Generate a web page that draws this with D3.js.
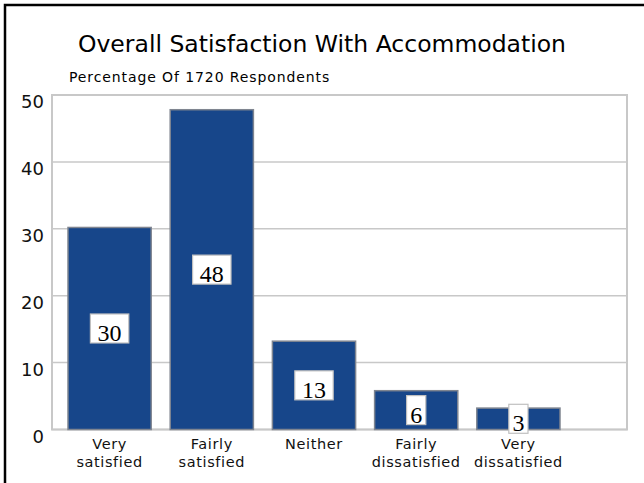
<!DOCTYPE html>
<html><head><meta charset="utf-8">
<script src="https://cdn.jsdelivr.net/npm/d3@7"></script>
<style>
html,body{margin:0;padding:0;background:#fff;}
svg{display:block;}
</style></head>
<body>
<svg id="chart" width="644" height="483"></svg>
<script>
const categories = [["Very","satisfied"],["Fairly","satisfied"],["Neither"],["Fairly","dissatisfied"],["Very","dissatisfied"]];
const values = [30.2, 47.8, 13.2, 5.8, 3.2];
const valueLabels = ["30","48","13","6","3"];
const yTicks = [0,10,20,30,40,50];
const title = "Overall Satisfaction With Accommodation";
const subtitle = "Percentage Of 1720 Respondents";

const svg = d3.select("#chart");
const W = 644, H = 483;
const plot = {left:52, right:627, top:95, bottom:429.5};

// frame
svg.append("path").attr("d", `M5,${H} L5,5 L${W},5`).attr("fill","none").attr("stroke","#000").attr("stroke-width",2.5);

const y = d3.scaleLinear().domain([0,50]).range([plot.bottom, plot.top]);
const x = d3.scaleBand().domain(d3.range(values.length)).range([68,560]).paddingInner(0.186).paddingOuter(0);

// gridlines
svg.append("g").selectAll("line").data(yTicks).join("line")
  .attr("x1",plot.left).attr("x2",plot.right)
  .attr("y1",d=>y(d)).attr("y2",d=>y(d))
  .attr("stroke","#c8c8c8").attr("stroke-width",1.5);
// plot border
svg.append("rect").attr("x",plot.left).attr("y",plot.top)
  .attr("width",plot.right-plot.left).attr("height",plot.bottom-plot.top)
  .attr("fill","none").attr("stroke","#c8c8c8").attr("stroke-width",2);

// y axis labels
const yAxis = d3.axisLeft(y).tickValues(yTicks).tickSize(0).tickPadding(0);
const gy = svg.append("g").attr("transform",`translate(44,0)`).call(yAxis);
gy.select(".domain").remove();
gy.selectAll("text").attr("font-family","DejaVu Sans").attr("font-size",18).attr("fill","#111")
  .attr("dy",null).attr("y",12.5);

// bars
svg.append("g").selectAll("rect").data(values).join("rect")
  .attr("x",(d,i)=>x(i)).attr("width",x.bandwidth())
  .attr("y",d=>y(d)).attr("height",d=>y(0)-y(d))
  .attr("fill","#17468a").attr("stroke","#7f8590").attr("stroke-width",1.5);

// value labels
const lg = svg.append("g");
values.forEach((v,i)=>{
  const cx = x(i)+x.bandwidth()/2;
  const cy = y(v/2);
  const g = lg.append("g");
  const r = g.append("rect");
  const t = g.append("text").text(valueLabels[i])
    .attr("font-family","Liberation Serif").attr("font-size",24)
    .attr("text-anchor","middle").attr("x",cx).attr("y",cy+12.5).attr("fill","#000");
  const bw = t.node().getBBox().width*1.6;
  r.attr("x",cx-bw/2).attr("y",cy-14.5).attr("width",bw).attr("height",29)
   .attr("fill","#fff").attr("stroke","#c0c0c0").attr("stroke-width",1.2);
});

// category labels
const cg = svg.append("g");
categories.forEach((lines,i)=>{
  const cx = x(i)+x.bandwidth()/2;
  const t = cg.append("text").attr("font-family","DejaVu Sans").attr("font-size",14.5)
    .attr("letter-spacing",0.6).attr("text-anchor","middle").attr("fill","#111");
  lines.forEach((s,j)=>{
    t.append("tspan").attr("x",cx).attr("y",449+j*18).text(s);
  });
});

// titles
svg.append("text").attr("x",322).attr("y",52).attr("text-anchor","middle")
  .attr("font-family","DejaVu Sans").attr("font-size",23.5).attr("fill","#000")
  .text(title);
svg.append("text").attr("x",69).attr("y",82)
  .attr("font-family","DejaVu Sans").attr("font-size",14).attr("letter-spacing",0.9).attr("fill","#000")
  .text(subtitle);
</script>
</body></html>
